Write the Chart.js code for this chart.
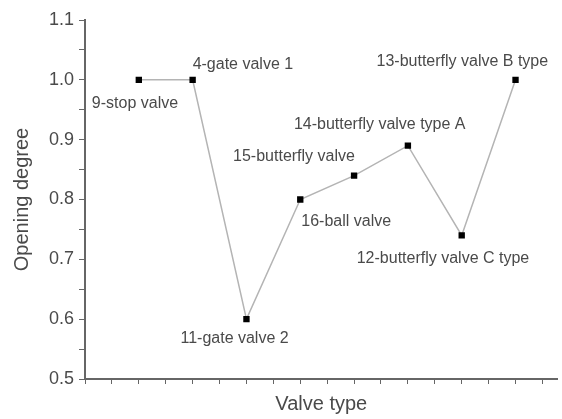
<!DOCTYPE html>
<html>
<head>
<meta charset="utf-8">
<script src="https://cdn.jsdelivr.net/npm/chart.js@4/dist/chart.umd.min.js"></script>
<style>
  html, body { margin: 0; padding: 0; background: #fff; }
  #wrap { width: 562px; height: 419px; }
</style>
</head>
<body>
<div id="wrap"><canvas id="chart"></canvas></div>
<script>
// valve names in the order they sit along the x axis
var valveNames = ['9-stop valve', '4-gate valve 1', '11-gate valve 2', '16-ball valve',
  '15-butterfly valve', '14-butterfly valve type A', '12-butterfly valve C type', '13-butterfly valve B type'];
var valvePositions = [1, 2, 3, 4, 5, 6, 7, 8];
var openingDegree = [1.0, 1.0, 0.6, 0.8, 0.84, 0.89, 0.74, 1.0];

// where each name is written relative to its point (px)
var labelOffsets = [[-47, 24], [0, -15], [-66, 19], [1, 22], [-121, -19], [-114, -21], [-105, 23], [-139, -18]];

var textGrey = '#4a4a4a';
var axisGrey = '#666';

var pointLabels = {
  id: 'pointLabels',
  afterDatasetsDraw(chart) {
    const ctx = chart.ctx;
    const xs = chart.scales.x, ys = chart.scales.y;
    ctx.save();
    ctx.font = '16px "Liberation Sans", Arial, sans-serif';
    ctx.fillStyle = textGrey;
    ctx.textAlign = 'left';
    ctx.textBaseline = 'middle';
    valveNames.forEach((name, i) => {
      const px = xs.getPixelForValue(valvePositions[i]) + labelOffsets[i][0];
      const py = ys.getPixelForValue(openingDegree[i]) + labelOffsets[i][1];
      ctx.fillText(name, px, py);
    });
    ctx.restore();
  }
};

new Chart(document.getElementById('chart'), {
  type: 'line',
  data: {
    datasets: [{
      data: openingDegree.map((v, i) => ({ x: valvePositions[i], y: v })),
      borderColor: '#b4b4b4',
      borderWidth: 1.5,
      pointStyle: 'rect',
      pointRadius: 4.5,
      pointBackgroundColor: '#000',
      pointBorderColor: '#000',
      pointBorderWidth: 0,
      tension: 0
    }]
  },
  options: {
    responsive: true,
    maintainAspectRatio: false,
    animation: false,
    layout: { padding: { top: 20, right: 0, left: 0, bottom: 0 } },
    plugins: {
      legend: { display: false },
      tooltip: { enabled: false }
    },
    scales: {
      x: {
        type: 'linear',
        min: 0,
        max: 8.78,
        border: { color: axisGrey, width: 2 },
        grid: { drawOnChartArea: false, tickLength: 5, color: axisGrey },
        ticks: {
          stepSize: 0.5,
          includeBounds: false,
          callback: () => ''
        },
        title: {
          display: true,
          text: 'Valve type',
          color: textGrey,
          font: { family: '"Liberation Sans", Arial, sans-serif', size: 20 },
          padding: { top: 2, bottom: 3 }
        },
        afterFit(scale) { scale.height = 40; }
      },
      y: {
        min: 0.5,
        max: 1.1,
        border: { color: axisGrey, width: 2 },
        grid: { drawOnChartArea: false, tickLength: 6, color: axisGrey },
        ticks: {
          stepSize: 0.05,
          padding: 5,
          color: textGrey,
          font: { family: '"Liberation Sans", Arial, sans-serif', size: 18 },
          callback: (value, index) => index % 2 === 0 ? value.toFixed(1) : ''
        },
        title: {
          display: true,
          text: 'Opening degree',
          color: textGrey,
          font: { family: '"Liberation Sans", Arial, sans-serif', size: 20 },
          padding: { top: 10, bottom: 0 }
        },
        afterFit(scale) { scale.width = 85; }
      }
    }
  },
  plugins: [pointLabels]
});
</script>
</body>
</html>
